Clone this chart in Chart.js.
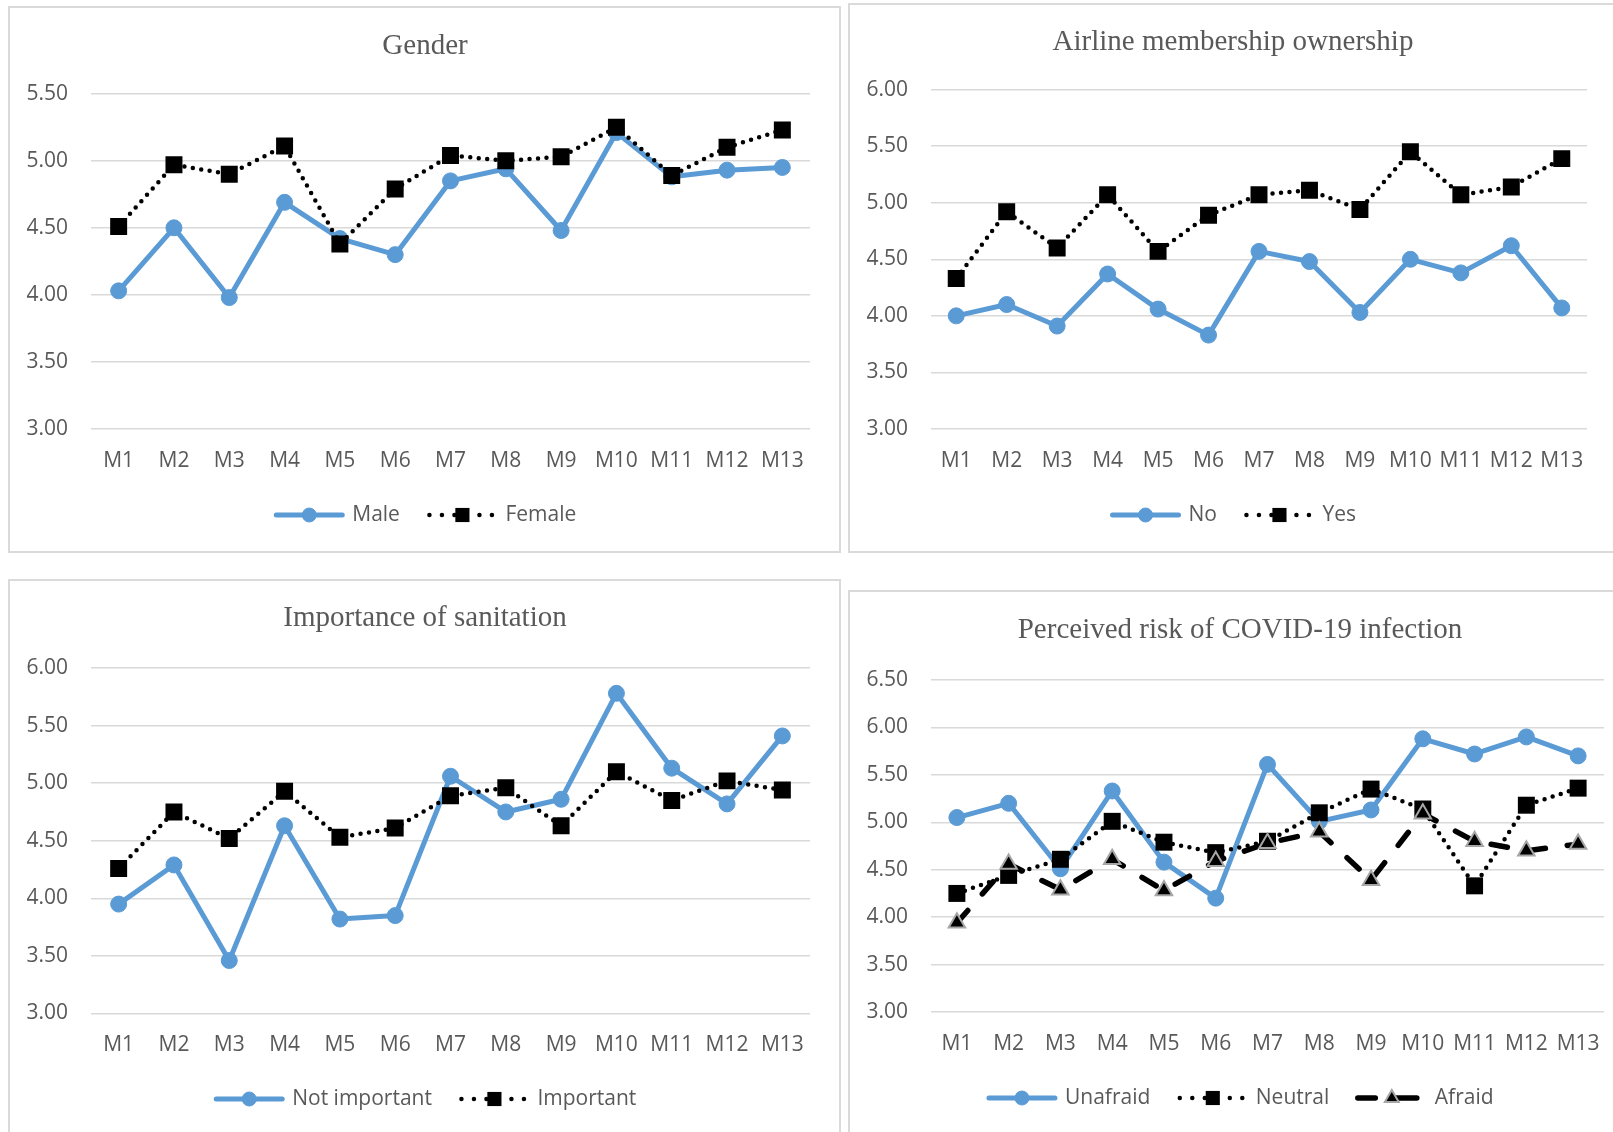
<!DOCTYPE html>
<html>
<head>
<meta charset="utf-8">
<title>Mean scores by group</title>
<script src="https://cdn.jsdelivr.net/npm/chart.js@4.4.1/dist/chart.umd.min.js"></script>
<style>
  html, body { margin: 0; padding: 0; background: #ffffff; width: 1613px; height: 1132px; overflow: hidden; }
  .frame { position: absolute; border: 2px solid #DADADA; box-sizing: border-box; }
  canvas { position: absolute; }
</style>
</head>
<body>
<div class="frame" style="left:8px;top:6px;width:833px;height:547px"></div>
<div class="frame" style="left:848px;top:3px;width:800px;height:550px"></div>
<div class="frame" style="left:8px;top:579px;width:833px;height:600px"></div>
<div class="frame" style="left:848px;top:590px;width:800px;height:600px"></div>

<canvas id="gender"     width="830" height="544" style="left:10px;top:8px"></canvas>
<canvas id="airline"    width="766" height="547" style="left:850px;top:5px"></canvas>
<canvas id="sanitation" width="830" height="560" style="left:10px;top:581px"></canvas>
<canvas id="covid"      width="780" height="560" style="left:850px;top:592px"></canvas>

<script>
// Category (tick) labels shared by all four charts
const months = ['M1', 'M2', 'M3', 'M4', 'M5', 'M6', 'M7', 'M8', 'M9', 'M10', 'M11', 'M12', 'M13'];

// Gender
const maleScores   = [4.03, 4.50, 3.98, 4.69, 4.42, 4.30, 4.85, 4.94, 4.48, 5.21, 4.88, 4.93, 4.95];
const femaleScores = [4.51, 4.97, 4.90, 5.11, 4.38, 4.79, 5.04, 5.00, 5.03, 5.25, 4.89, 5.10, 5.23];

// Airline membership ownership
const memberNo  = [4.00, 4.10, 3.91, 4.37, 4.06, 3.83, 4.57, 4.48, 4.03, 4.50, 4.38, 4.62, 4.07];
const memberYes = [4.33, 4.92, 4.60, 5.07, 4.57, 4.89, 5.07, 5.11, 4.94, 5.45, 5.07, 5.14, 5.39];

// Importance of sanitation
const sanitationNotImportant = [3.95, 4.29, 3.46, 4.63, 3.82, 3.85, 5.06, 4.75, 4.86, 5.78, 5.13, 4.82, 5.41];
const sanitationImportant    = [4.26, 4.75, 4.52, 4.93, 4.53, 4.61, 4.89, 4.96, 4.63, 5.10, 4.85, 5.02, 4.94];

// Perceived risk of COVID-19 infection
const riskUnafraid = [5.05, 5.20, 4.51, 5.33, 4.58, 4.20, 5.61, 5.01, 5.13, 5.88, 5.72, 5.90, 5.70];
const riskNeutral  = [4.25, 4.44, 4.61, 5.01, 4.79, 4.68, 4.80, 5.10, 5.35, 5.14, 4.33, 5.18, 5.36];
const riskAfraid   = [3.94, 4.56, 4.29, 4.61, 4.28, 4.59, 4.78, 4.90, 4.39, 5.09, 4.80, 4.70, 4.77];

const BLUE = '#5B9BD5';
const TEXT = '#595959';
const SANS = '"Open Sans", "Noto Sans", sans-serif';
const SERIF = '"Liberation Serif", "Times New Roman", serif';

// Series styles: solid blue with circles, dotted black with squares, dashed black with triangles.
// legendSegments are line pieces of the legend sample, relative to the marker centre.
function solidSeries(label, data) {
  return {
    label, data,
    borderColor: BLUE, borderWidth: 5, borderCapStyle: 'round', borderJoinStyle: 'round',
    pointStyle: 'circle', pointRadius: 8, pointBackgroundColor: BLUE, pointBorderColor: BLUE, pointBorderWidth: 1,
    legendSegments: [[-33, 33]], legendRadius: 7, tension: 0, order: 2
  };
}
function dottedSeries(label, data) {
  return {
    label, data,
    borderColor: '#000000', borderWidth: 4.5, borderDash: [0, 8.5], borderCapStyle: 'round',
    pointStyle: 'rect', pointRadius: 12, pointBackgroundColor: '#000000', pointBorderColor: '#000000', pointBorderWidth: 0,
    legendSegments: [[-33, -33], [-20.5, -20.5], [-8, -8], [17, 17], [29.5, 29.5]], legendRadius: 10, tension: 0, order: 1
  };
}
function dashedSeries(label, data) {
  return {
    label, data,
    borderColor: '#000000', borderWidth: 5.5, borderDash: [16.5, 22], borderCapStyle: 'round',
    pointStyle: 'triangle', pointRadius: 9.5, pointBackgroundColor: '#000000', pointBorderColor: '#A6A6A6', pointBorderWidth: 2,
    legendSegments: [[-34, -16.5], [-2, 25]], legendRadius: 8, tension: 0, order: 0
  };
}

// Legend drawn as line sample + marker + label, centred under the chart
const sampleLegend = {
  id: 'sampleLegend',
  afterDraw(chart, args, opts) {
    const ctx = chart.ctx;
    const sets = chart.data.datasets;
    const half = 35.5, textOff = 43, itemGap = 27;
    ctx.save();
    ctx.font = '21px ' + SANS;
    const widths = sets.map(ds => half + textOff + ctx.measureText(ds.label).width);
    const total = widths.reduce((a, b) => a + b, 0) + itemGap * (sets.length - 1);
    let x = (chart.width - total) / 2;
    const y = opts.y;
    sets.forEach((ds, i) => {
      const cx = x + half;
      // line sample
      ctx.save();
      ctx.strokeStyle = ds.borderColor;
      ctx.lineWidth = ds.borderWidth;
      ctx.lineCap = 'round';
      ds.legendSegments.forEach(([a, b]) => {
        ctx.beginPath();
        ctx.moveTo(cx + a, y);
        ctx.lineTo(cx + b + (a === b ? 0.01 : 0), y);
        ctx.stroke();
      });
      ctx.restore();
      // marker
      const r = ds.legendRadius;
      ctx.save();
      ctx.fillStyle = ds.pointBackgroundColor;
      ctx.strokeStyle = ds.pointBorderColor;
      ctx.lineWidth = ds.pointBorderWidth;
      ctx.beginPath();
      if (ds.pointStyle === 'circle') {
        ctx.arc(cx, y, r, 0, Math.PI * 2);
      } else if (ds.pointStyle === 'rect') {
        const s = r * Math.SQRT1_2;
        ctx.rect(cx - s, y - s, 2 * s, 2 * s);
      } else {
        const h = r * Math.sqrt(3) / 2;
        ctx.moveTo(cx, y - r);
        ctx.lineTo(cx + h, y + r / 2);
        ctx.lineTo(cx - h, y + r / 2);
        ctx.closePath();
      }
      ctx.fill();
      if (ds.pointBorderWidth > 0) ctx.stroke();
      ctx.restore();
      // label
      ctx.fillStyle = TEXT;
      ctx.textBaseline = 'middle';
      ctx.textAlign = 'left';
      ctx.fillText(ds.label, cx + textOff, y);
      x += widths[i] + itemGap;
    });
    ctx.restore();
  }
};

function makeChart(id, cfg) {
  const canvas = document.getElementById(id);
  return new Chart(canvas, {
    type: 'line',
    data: { labels: months, datasets: cfg.datasets },
    plugins: [sampleLegend],
    options: {
      responsive: false,
      animation: false,
      devicePixelRatio: 1,
      events: [],
      layout: { padding: { left: 0, top: 0, right: 0, bottom: cfg.padBottom } },
      plugins: {
        legend: { display: false },
        tooltip: { enabled: false },
        title: {
          display: true,
          text: cfg.title,
          color: TEXT,
          font: { family: SERIF, size: 29, weight: 'normal', lineHeight: 1.2 },
          padding: { top: cfg.titleTop, bottom: cfg.titleBottom }
        },
        sampleLegend: { y: cfg.legendY }
      },
      scales: {
        x: {
          type: 'category',
          offset: true,
          grid: { display: false, drawTicks: false },
          border: { display: false },
          ticks: { color: TEXT, font: { family: SANS, size: 21 }, padding: 19, autoSkip: false, maxRotation: 0 },
          afterFit(scale) { scale.height = 60; }
        },
        y: {
          min: cfg.yMin, max: cfg.yMax,
          grid: { color: '#D9D9D9', lineWidth: 1.5, drawTicks: false },
          border: { display: false },
          ticks: {
            stepSize: 0.5, color: TEXT, padding: 23,
            font: { family: SANS, size: 21 },
            callback: v => Number(v).toFixed(2)
          },
          afterFit(scale) { scale.width = 81; }
        },
        // empty right-hand margin of the plot area
        margin: {
          type: 'linear',
          position: 'right',
          grid: { display: false, drawTicks: false },
          border: { display: false },
          ticks: { display: false },
          afterFit(scale) { scale.width = cfg.marginRight; }
        }
      }
    }
  });
}

makeChart('gender', {
  title: 'Gender',
  datasets: [solidSeries('Male', maleScores), dottedSeries('Female', femaleScores)],
  yMin: 3, yMax: 5.5,
  titleTop: 20.6, titleBottom: 30.3,
  marginRight: 30, padBottom: 63, legendY: 507
});

makeChart('airline', {
  title: 'Airline membership ownership',
  datasets: [solidSeries('No', memberNo), dottedSeries('Yes', memberYes)],
  yMin: 3, yMax: 6,
  titleTop: 19.6, titleBottom: 30.2,
  marginRight: 29, padBottom: 63, legendY: 510
});

makeChart('sanitation', {
  title: 'Importance of sanitation',
  datasets: [solidSeries('Not important', sanitationNotImportant), dottedSeries('Important', sanitationImportant)],
  yMin: 3, yMax: 6,
  titleTop: 19.6, titleBottom: 32.6,
  marginRight: 30, padBottom: 67.5, legendY: 518
});

makeChart('covid', {
  title: 'Perceived risk of COVID-19 infection',
  datasets: [solidSeries('Unafraid', riskUnafraid), dottedSeries('Neutral', riskNeutral), dashedSeries('Afraid', riskAfraid)],
  yMin: 3, yMax: 6.5,
  titleTop: 20.6, titleBottom: 32.6,
  marginRight: 26, padBottom: 80, legendY: 506
});
</script>
</body>
</html>
